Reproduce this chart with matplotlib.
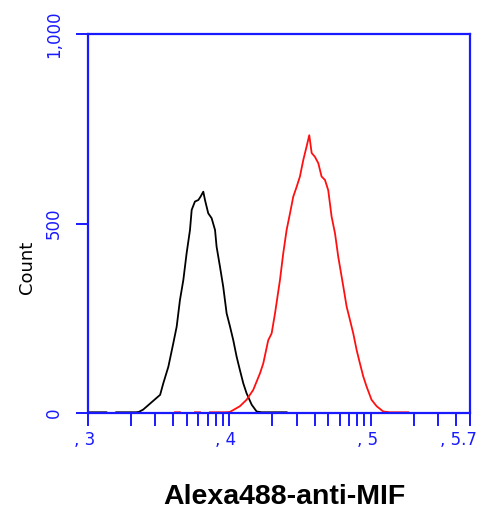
import numpy as np
import matplotlib
matplotlib.use('Agg')
from matplotlib import pyplot as plt
from matplotlib.transforms import ScaledTranslation

ctrl_log = [3.00, 3.13, np.nan, 3.20, 3.34, 3.36, 3.39, 3.51, 3.532, 3.568, 3.603, 3.627, 3.650,
            3.674, 3.697, 3.721, 3.733, 3.756, 3.780, 3.796, 3.815, 3.827, 3.850, 3.874,
            3.898, 3.909, 3.933, 3.956, 3.980, 4.004, 4.027, 4.051, 4.074, 4.098, 4.121,
            4.157, 4.192, 4.227, 4.404]
ctrl_cnt = [2, 2, np.nan, 2, 2, 3, 9, 48, 78, 122, 184, 228, 298,
            351, 421, 483, 536, 558, 562, 571, 584, 562, 527, 514,
            483, 439, 386, 333, 263, 228, 192, 148, 113, 78, 52,
            22, 4, 2, 2]

mif_log = [3.615, 3.650, np.nan, 3.756, 3.792, np.nan, 3.862, 3.980, 4.004, 4.074, 4.121,
           4.168, 4.216, 4.239, 4.274, 4.298, 4.322, 4.357, 4.380, 4.404, 4.428, 4.451,
           4.475, 4.498, 4.522, 4.545, 4.564, 4.581, 4.604, 4.628, 4.651, 4.675, 4.698,
           4.722, 4.746, 4.769, 4.805, 4.828, 4.852, 4.875, 4.899, 4.922, 4.946, 4.969,
           5.004, 5.040, 5.087, 5.134, 5.264]
mif_cnt = [2, 2, np.nan, 2, 2, np.nan, 2, 2, 3, 18, 35,
           61, 105, 131, 192, 210, 263, 351, 421, 483, 527, 571,
           597, 624, 668, 703, 733, 686, 676, 659, 624, 615, 588,
           518, 474, 412, 333, 281, 245, 210, 166, 131, 96, 70,
           35, 18, 4, 2, 2]

x_major = [3, 4, 5, 5.7]
x_labels = [', 3', ', 4', ', 5', ', 5.7']
y_major = [0, 500, 1000]
y_labels = ['0', '500', '1,000']

blue = '#1a1aff'

fig = plt.figure(figsize=(5.01, 5.13), dpi=100)
ax = fig.add_axes([0.1756, 0.1949, 0.7625, 0.7388])

ax.plot(10 ** np.array(ctrl_log), ctrl_cnt, color='black', lw=1.3)
ax.plot(10 ** np.array(mif_log), mif_cnt, color='#ff1010', lw=1.3)

ax.set_xscale('log')
ax.set_xlim(10 ** 3, 10 ** 5.7)
ax.set_ylim(0, 1000)

ax.set_xticks([10 ** v for v in x_major])
ax.set_xticklabels(x_labels, fontsize=12, color=blue)
ax.set_xticks([k * 10 ** d for d in (3, 4, 5) for k in range(2, 10) if k * 10 ** d < 10 ** 5.7],
              minor=True)
ax.set_yticks(y_major)
ax.set_yticklabels(y_labels, fontsize=12, color=blue, rotation=90, va='center')

ax.tick_params(axis='x', which='both', direction='out', length=9, width=1.4, color=blue, pad=4)
ax.tick_params(axis='y', which='both', direction='out', length=9, width=1.4, color=blue, pad=9)
ax.tick_params(axis='y', which='minor', length=0)
for lab in ax.get_xticklabels():
    lab.set_horizontalalignment('right')
    lab.set_transform(lab.get_transform() + ScaledTranslation(7 / 100, 0, fig.dpi_scale_trans))

for s in ax.spines.values():
    s.set_color(blue)
    s.set_linewidth(1.6)

fig.text(27 / 501, 1 - 267 / 513, 'Count', fontsize=13, rotation=90, ha='center', va='center')
fig.text(284 / 501, 1 - 497 / 513, 'Alexa488-anti-MIF', fontsize=20.5, fontweight='bold',
         family='Liberation Sans', ha='center', va='center')

fig.savefig('out.png', dpi=100)
